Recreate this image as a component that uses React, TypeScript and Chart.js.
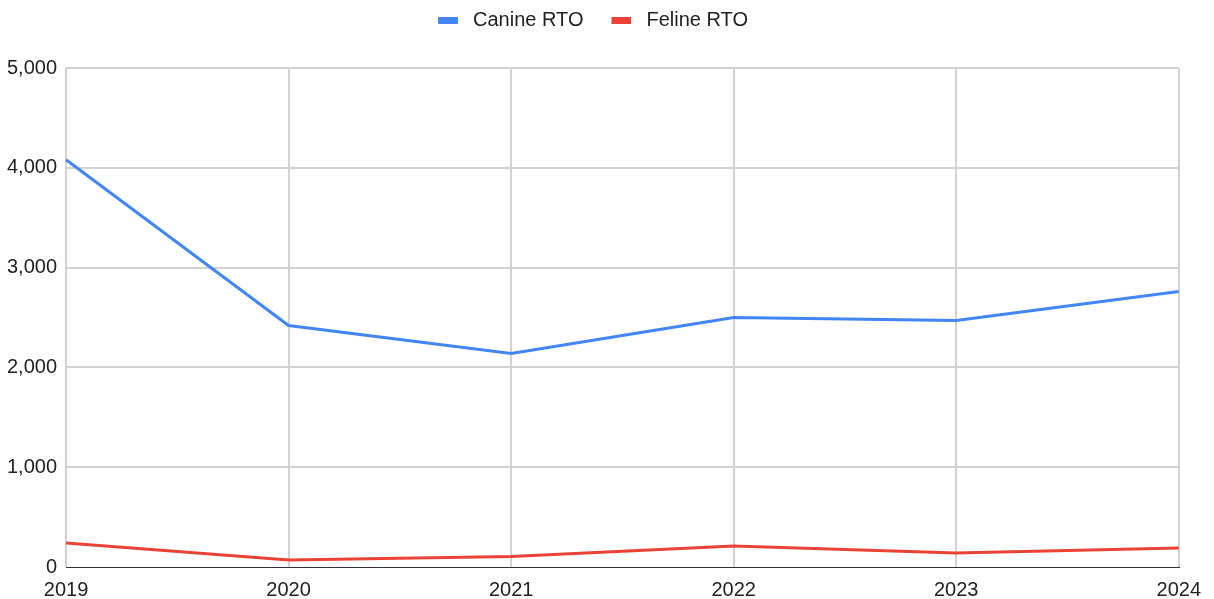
import React, { useEffect, useRef } from "react";
import { Chart, registerables } from "chart.js";

Chart.register(...registerables);

const years = ["2019", "2020", "2021", "2022", "2023", "2024"];
const canineRTO = [4080, 2420, 2140, 2500, 2470, 2760];
const felineRTO = [240, 70, 105, 210, 140, 190];
const yTicks = [0, 1000, 2000, 3000, 4000, 5000];

const BLUE = "#4285F4";
const RED = "#EA4335";
const GRID = "#d2d2d2";
const FONT = "'Liberation Sans', Arial, sans-serif";

function legendSwatch(color: string): HTMLCanvasElement {
  const c = document.createElement("canvas");
  c.width = 33;
  c.height = 7;
  const ctx = c.getContext("2d")!;
  ctx.fillStyle = color;
  ctx.fillRect(13, 0, 20, 7);
  return c;
}

const legendMargin = {
  id: "legendMargin",
  beforeInit(chart: any) {
    const legend = chart.legend;
    const origFit = legend.fit;
    legend.fit = function () {
      origFit.call(this);
      this.height += 28;
    };
    const origDraw = legend.draw;
    legend.draw = function () {
      const ctx = this.ctx;
      ctx.save();
      ctx.translate(-6, 0);
      origDraw.call(this);
      ctx.restore();
    };
  },
};

export default function App() {
  const ref = useRef<HTMLCanvasElement | null>(null);

  useEffect(() => {
    if (!ref.current) return;
    const chart = new Chart(ref.current, {
      type: "line",
      data: {
        labels: years,
        datasets: [
          {
            label: "Canine RTO",
            data: canineRTO,
            borderColor: BLUE,
            backgroundColor: BLUE,
            borderWidth: 3,
            pointRadius: 0,
            pointHoverRadius: 0,
            pointStyle: legendSwatch(BLUE) as any,
            tension: 0,
          },
          {
            label: "Feline RTO",
            data: felineRTO,
            borderColor: RED,
            backgroundColor: RED,
            borderWidth: 3,
            pointRadius: 0,
            pointHoverRadius: 0,
            pointStyle: legendSwatch(RED) as any,
            tension: 0,
          },
        ],
      },
      options: {
        responsive: false,
        animation: false,
        events: [],
        layout: { padding: { top: 0, left: -2, right: 32, bottom: -14 } },
        plugins: {
          legend: {
            position: "top",
            labels: {
              usePointStyle: true,
              pointStyleWidth: 43,
              padding: 10,
              color: "#222222",
              font: { family: FONT, size: 20 },
            },
          },
          tooltip: { enabled: false },
        },
        scales: {
          x: {
            offset: false,
            grid: { color: GRID, lineWidth: 2, drawTicks: false },
            border: { color: "#333333", width: 1 },
            ticks: {
              color: "#222222",
              padding: 13,
              maxRotation: 0,
              font: { family: FONT, size: 20, lineHeight: 1 },
            },
          },
          y: {
            min: 0,
            max: 5000,
            afterBuildTicks: (axis: any) => {
              axis.ticks = yTicks.map((v) => ({ value: v }));
            },
            grid: {
              color: (ctx: any) => (ctx.tick && ctx.tick.value === 0 ? "#333333" : GRID),
              lineWidth: (ctx: any) => (ctx.tick && ctx.tick.value === 0 ? 1 : 2),
              drawTicks: false,
            },
            border: { display: false },
            ticks: {
              color: "#222222",
              padding: 9,
              font: { family: FONT, size: 20 },
              callback: (v: any) => Number(v).toLocaleString("en-US"),
            },
          },
        },
      },
      plugins: [legendMargin],
    });
    return () => chart.destroy();
  }, []);

  return (
    <div style={{ position: "absolute", left: 0, top: 0, width: 1214, height: 599 }}>
      <canvas ref={ref} width={1214} height={599} style={{ display: "block" }} />
    </div>
  );
}
